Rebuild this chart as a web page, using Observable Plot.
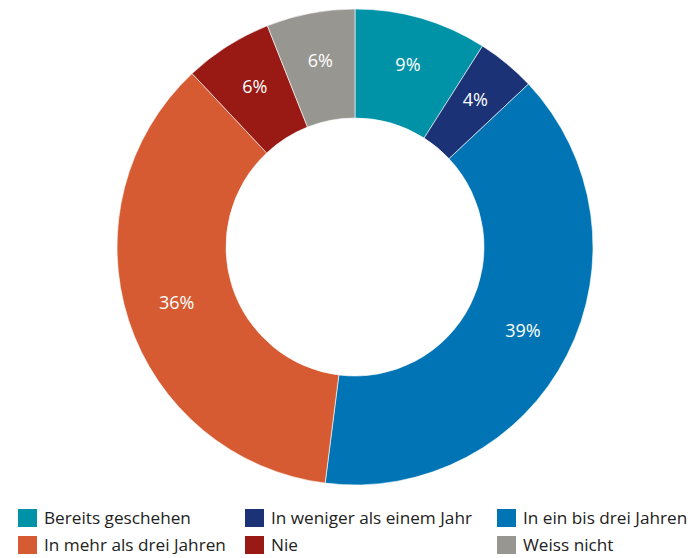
<!DOCTYPE html>
<html>
<head>
<meta charset="utf-8">
<script src="https://cdn.jsdelivr.net/npm/d3@7"></script>
<script src="https://cdn.jsdelivr.net/npm/@observablehq/plot@0.6"></script>
<style>
  body { margin: 0; background: #fff; font-family: "Open Sans", sans-serif; }
  #chart { width: 695px; }
  .legend { display: grid; grid-template-columns: 227px 252px auto; padding-left: 18px; row-gap: 9px; margin-top: 12px; }
  .item { display: flex; align-items: center; font-size: 17.2px; line-height: 18px; color: #222; height: 18px; white-space: nowrap; }
  .sw { width: 19px; height: 18px; margin-right: 7px; flex: none; }
</style>
</head>
<body>
<div id="chart"></div>
<script>
const categories = ["Bereits geschehen", "In weniger als einem Jahr", "In ein bis drei Jahren", "In mehr als drei Jahren", "Nie", "Weiss nicht"];
const values = [9, 4, 39, 36, 6, 6];
const colors = ["#0093a7", "#1c3276", "#0074b4", "#d65b32", "#991914", "#989691"];

const data = categories.map((c, i) => ({category: c, value: values[i]}));
const outerR = 238, innerR = 129, labelR = 188;
const pie = d3.pie().value(d => d.value).sort(null);
const arcs = pie(data);
const arcGen = d3.arc().innerRadius(innerR).outerRadius(outerR);
const labelArc = d3.arc().innerRadius(labelR).outerRadius(labelR);
const labels = arcs.map(a => {
  const [cx, cy] = labelArc.centroid(a);
  return {x: cx, y: -cy, text: a.data.value + "%"};
});
const color = Plot.scale({color: {type: "ordinal", domain: categories, range: colors}});

const W = 695, H = 497, CX = 355, CY = 247;
const chart = Plot.plot({
  width: W, height: H, margin: 0,
  style: {fontFamily: "Open Sans, sans-serif"},
  x: {domain: [-CX, W - CX], axis: null},
  y: {domain: [-(H - CY), CY], axis: null},
  marks: [
    (index, scales) => {
      const g = d3.create("svg:g")
        .attr("transform", `translate(${scales.x(0)},${scales.y(0)})`);
      g.selectAll("path").data(arcs).join("path")
        .attr("d", arcGen)
        .attr("fill", d => color.apply(d.data.category))
        .attr("stroke", "#fff")
        .attr("stroke-width", 0.6);
      return g.node();
    },
    Plot.text(labels, {x: "x", y: "y", text: "text", fill: "white", fontSize: 18, dy: -2})
  ]
});
document.getElementById("chart").append(chart);

const legend = document.createElement("div");
legend.className = "legend";
categories.forEach((c, i) => {
  const it = document.createElement("div");
  it.className = "item";
  const sw = document.createElement("span");
  sw.className = "sw";
  sw.style.background = color.apply(c);
  it.append(sw, document.createTextNode(c));
  legend.append(it);
});
document.getElementById("chart").append(legend);
</script>
</body>
</html>
